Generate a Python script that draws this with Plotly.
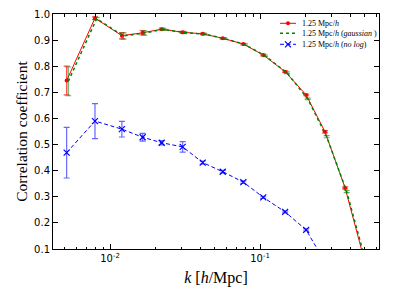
import plotly.graph_objects as go

# ---- data ----
k_vals = [0.00514, 0.00794, 0.0120, 0.0165, 0.0221, 0.0305, 0.0415, 0.0564,
          0.0774, 0.105, 0.147, 0.203, 0.271, 0.369, 0.50]
red_vals = [0.745, 0.984, 0.917, 0.928, 0.942, 0.930, 0.924, 0.907,
            0.885, 0.843, 0.779, 0.690, 0.549, 0.334, 0.05]
red_err = [0.055, 0.005, 0.012, 0.008, 0.004, 0.004, 0.003, 0.003,
           0.003, 0.003, 0.003, 0.003, 0.004, 0.004, 0.004]
green_k = [0.00527, 0.00814, 0.0123, 0.0169, 0.0227, 0.0313, 0.0425, 0.0578,
           0.0793, 0.108, 0.151, 0.208, 0.278, 0.378, 0.513]
green_vals = [0.742, 0.982, 0.916, 0.927, 0.941, 0.929, 0.923, 0.906,
              0.883, 0.840, 0.775, 0.675, 0.530, 0.320, 0.04]
green_err = [0.055, 0.005, 0.012, 0.008, 0.004, 0.004, 0.003, 0.003,
             0.003, 0.003, 0.003, 0.003, 0.004, 0.004, 0.004]
blue_k = [0.00514, 0.00794, 0.0120, 0.0165, 0.0221, 0.0305, 0.0415, 0.0564,
          0.0774, 0.105, 0.147, 0.203, 0.271]
blue_vals = [0.469, 0.590, 0.559, 0.528, 0.507, 0.491, 0.431, 0.396,
             0.356, 0.298, 0.242, 0.173, 0.05]
blue_err = [0.097, 0.067, 0.030, 0.015, 0.008, 0.020, 0.006, 0.005,
            0.005, 0.004, 0.004, 0.004, 0.004]

legend_labels = ["1.25 Mpc/<i>h</i>",
                 "1.25 Mpc/<i>h</i> (<i>gaussian</i> )",
                 "1.25 Mpc/<i>h</i> (<i>no log</i>)"]

y_ticks = [0.1, 0.2, 0.3, 0.4, 0.5, 0.6, 0.7, 0.8, 0.9, 1.0]
x_ticks = [0.01, 0.1]
x_ticktext = ["10<sup>-2</sup>", "10<sup>-1</sup>"]
x_minor = [0.005, 0.006, 0.007, 0.008, 0.009,
           0.02, 0.03, 0.04, 0.05, 0.06, 0.07, 0.08, 0.09,
           0.2, 0.3, 0.4, 0.5, 0.6]

RED = "#ff0000"
GREEN = "#008000"
BLUE = "#0000ff"
RED_MARK = dict(symbol="circle", size=4, color=RED)
BLUE_MARK = dict(symbol="x-thin", size=6, line=dict(color=BLUE, width=1.2))
BLUE_DASH = "4px,2.5px"

fig = go.Figure()

fig.add_trace(go.Scatter(
    x=k_vals, y=red_vals, mode="lines+markers",
    line=dict(color=RED, width=1), marker=RED_MARK,
    error_y=dict(type="data", array=red_err, color="rgba(255,0,0,0.7)",
                 thickness=1.2, width=3),
    showlegend=False))

fig.add_trace(go.Scatter(
    x=green_k, y=green_vals, mode="lines",
    line=dict(color=GREEN, width=1.5, dash="dot"),
    error_y=dict(type="data", array=green_err, color="rgba(0,128,0,0.6)",
                 thickness=1.2, width=3),
    showlegend=False))

fig.add_trace(go.Scatter(
    x=blue_k, y=blue_vals, mode="lines+markers",
    line=dict(color=BLUE, width=1, dash=BLUE_DASH), marker=BLUE_MARK,
    error_y=dict(type="data", array=blue_err, color="rgba(0,0,255,0.6)",
                 thickness=1.2, width=3),
    showlegend=False))

# ---- manual legend on an overlay axis measured in plot-area pixels ----
# (the page body has an 8px margin, so figure coords = window coords - 8)
leg_rows = [15.3, 25.3, 36.3]
leg_lines = [dict(color=RED, width=1),
             dict(color=GREEN, width=1.5, dash="dot"),
             dict(color=BLUE, width=1, dash=BLUE_DASH)]
leg_marks = [RED_MARK, None, BLUE_MARK]
for yrow, ln, mk, lab in zip(leg_rows, leg_lines, leg_marks, legend_labels):
    fig.add_trace(go.Scatter(x=[272, 288], y=[yrow, yrow], xaxis="x2", yaxis="y2",
                             mode="lines", line=ln, showlegend=False, hoverinfo="skip"))
    if mk is not None:
        fig.add_trace(go.Scatter(x=[280], y=[yrow], xaxis="x2", yaxis="y2",
                                 mode="markers", marker=mk, showlegend=False,
                                 hoverinfo="skip"))
    fig.add_annotation(x=292, y=yrow, xref="x2", yref="y2", text=lab,
                       showarrow=False, xanchor="left", yanchor="middle",
                       font=dict(family="Liberation Serif", size=8, color="black"))

axis_common = dict(showline=True, linecolor="black", linewidth=1, mirror="allticks",
                   ticks="inside", tickcolor="black", showgrid=False, zeroline=False,
                   automargin=False,
                   tickfont=dict(family="DejaVu Sans", size=10, color="black"))

fig.update_layout(
    width=391, height=290, autosize=False,
    margin=dict(l=45, r=20, t=6, b=49),
    paper_bgcolor="white", plot_bgcolor="white",
    xaxis=dict(type="log", range=[-2.38, -0.207], tickvals=x_ticks,
               ticktext=x_ticktext, ticklen=5,
               minor=dict(ticks="inside", ticklen=2.5, tickvals=x_minor,
                          tickcolor="black", showgrid=False),
               title=dict(text="<i>k</i> [<i>h</i>/Mpc]", standoff=8,
                          font=dict(family="Liberation Serif", size=16, color="black")),
               **axis_common),
    yaxis=dict(range=[0.1, 1.0], tickvals=y_ticks,
               ticktext=["%.1f" % v for v in y_ticks], ticklen=5,
               title=dict(text="Correlation coefficient", standoff=2,
                          font=dict(family="Liberation Serif", size=15.5, color="black")),
               **axis_common),
    xaxis2=dict(overlaying="x", range=[45, 371], visible=False, fixedrange=True),
    yaxis2=dict(overlaying="y", range=[241, 6], visible=False, fixedrange=True),
)

fig.write_html("out.html")
